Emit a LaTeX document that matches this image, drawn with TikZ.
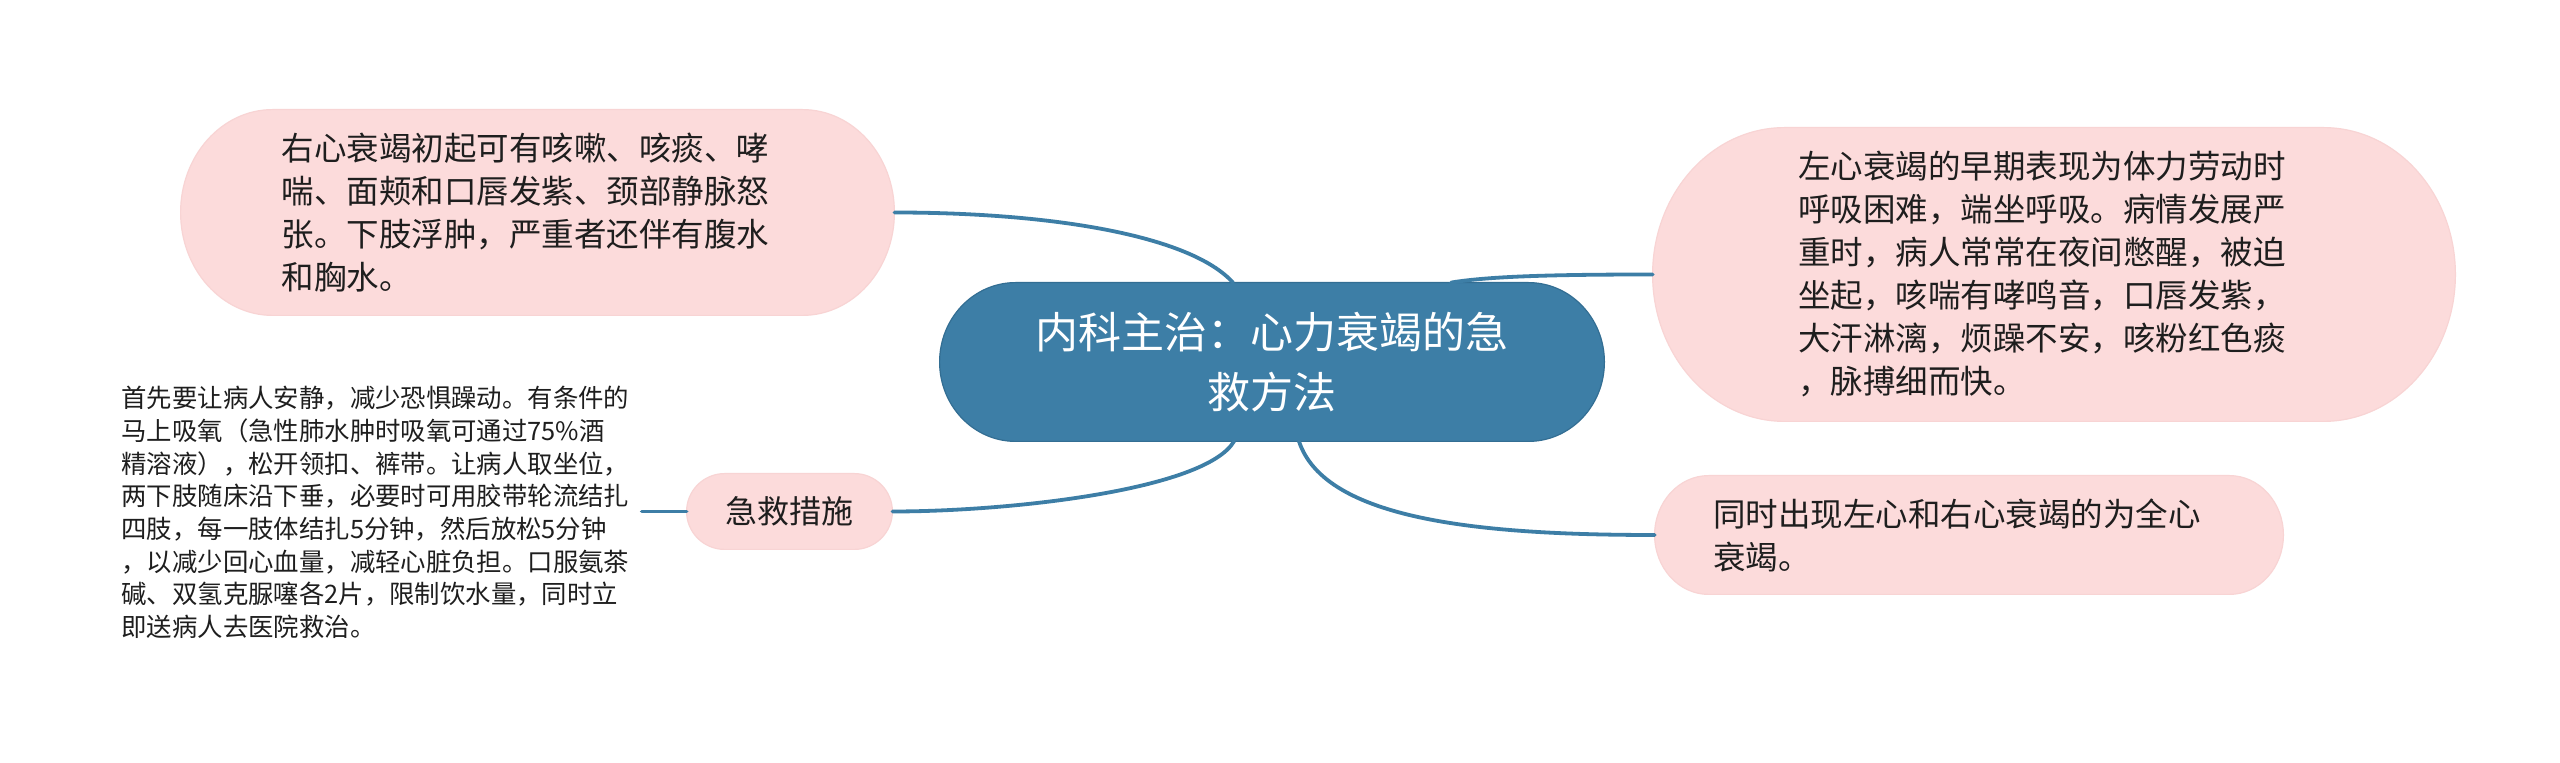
\documentclass[tikz,border=0pt]{standalone}
\usepackage{fontspec}
\setmainfont{Noto Sans CJK SC}
\usetikzlibrary{calc}
\pgfdeclarelayer{bg}
\pgfsetlayers{bg,main}
\definecolor{mainblue}{HTML}{3D7EA6}
\definecolor{mainedge}{HTML}{336E93}
\definecolor{pinkfill}{HTML}{FCDBDB}
\definecolor{pinkedge}{HTML}{F8D4D4}
\definecolor{txt}{HTML}{1E1E1E}
\newcommand\ovalfill[3]{%
 \begin{pgfonlayer}{bg}
 \path[#3] let \p1=(#1.north west), \p2=(#1.south east), \n1={#2}, \n2={(\y1-\y2)/2} in
  ({\x1+\n1},\y1) -- ({\x2-\n1},\y1)
  .. controls ({\x2-0.4477*\n1},\y1) and (\x2,{\y1-0.4477*\n2}) .. (\x2,{\y1-\n2})
  .. controls (\x2,{\y2+0.4477*\n2}) and ({\x2-0.4477*\n1},\y2) .. ({\x2-\n1},\y2)
  -- ({\x1+\n1},\y2)
  .. controls ({\x1+0.4477*\n1},\y2) and (\x1,{\y2+0.4477*\n2}) .. (\x1,{\y2+\n2})
  .. controls (\x1,{\y1-0.4477*\n2}) and ({\x1+0.4477*\n1},\y1) .. ({\x1+\n1},\y1) -- cycle;
 \end{pgfonlayer}}
\begin{document}
\begin{tikzpicture}[x=0.5pt,y=-0.5pt,
  boxnode/.style={rectangle,inner sep=0pt,text=txt},
  pinkbody/.style={fill=pinkfill,draw=pinkedge,line width=0.6pt},
  bluebody/.style={fill=mainblue,draw=mainedge,line width=0.6pt},
  conn/.style={draw=mainblue,line width=1.9pt,line cap=round},
  bodyfont/.style={font=\fontsize{16.25pt}{21.5pt}\selectfont}]
\begin{pgfonlayer}{bg}
\fill[white] (0,0) rectangle (2560,763);
\end{pgfonlayer}
\useasboundingbox (0,0) rectangle (2560,763);

% center node
\node[boxnode,minimum width=332pt,minimum height=79pt,text width=250pt,align=center,text=white,
  font=\fontsize{21.5pt}{30pt}\selectfont] (c) at (1272,362)
  {内科主治：心力衰竭的急\\救方法};

% right heart (top left)
\node[boxnode,bodyfont,minimum width=356.5pt,minimum height=102.5pt,text width=256pt,align=left] (rh) at (537.5,212.5)
  {右心衰竭初起可有咳嗽、咳痰、哮\\喘、面颊和口唇发紫、颈部静脉怒\\张。下肢浮肿，严重者还伴有腹水\\和胸水。};

% left heart (right)
\node[boxnode,bodyfont,minimum width=401pt,minimum height=146.5pt,text width=256pt,align=left] (lh) at (2054,274.5)
  {左心衰竭的早期表现为体力劳动时\\呼吸困难，端坐呼吸。病情发展严\\重时，病人常常在夜间憋醒，被迫\\坐起，咳喘有哮鸣音，口唇发紫，\\大汗淋漓，烦躁不安，咳粉红色痰\\，脉搏细而快。};

% whole heart
\node[boxnode,bodyfont,minimum width=314pt,minimum height=59pt,text width=256pt,align=left] (wh) at (1969,535)
  {同时出现左心和右心衰竭的为全心\\衰竭。};

% emergency measures
\node[boxnode,font=\fontsize{16pt}{21pt}\selectfont,minimum width=102.5pt,minimum height=37.5pt] (jj) at (789.5,511.5)
  {急救措施};

% long text
\node[boxnode,anchor=west,text width=260pt,align=left,font=\fontsize{12.7pt}{16.35pt}\selectfont] (lt) at (121,512.5)
  {首先要让病人安静，减少恐惧躁动。有条件的\\马上吸氧（急性肺水肿时吸氧可通过75\%酒\\精溶液），松开领扣、裤带。让病人取坐位，\\两下肢随床沿下垂，必要时可用胶带轮流结扎\\四肢，每一肢体结扎5分钟，然后放松5分钟\\，以减少回心血量，减轻心脏负担。口服氨茶\\碱、双氢克脲噻各2片，限制饮水量，同时立\\即送病人去医院救治。};

% shapes
\ovalfill{c}{38pt}{bluebody}
\ovalfill{rh}{46pt}{pinkbody}
\ovalfill{lh}{66pt}{pinkbody}
\ovalfill{wh}{27pt}{pinkbody}
\ovalfill{jj}{19pt}{pinkbody}

% connectors
\draw[conn] (rh.east) .. controls (1050,212.5) and (1190,235) .. ($(c.north)+(-39,0)$);
\draw[conn] ($(c.north)+(179,0)$) .. controls (1490,276) and (1560,274.5) .. (lh.west);
\draw[conn] ($(c.south)+(-38,0)$) .. controls (1205,490) and (1010,511.5) .. (jj.east);
\draw[conn] ($(c.south)+(27,0)$) .. controls (1325,520) and (1480,535) .. (wh.west);
\draw[conn] (lt.east |- jj.west) -- (jj.west);
\end{tikzpicture}
\end{document}
